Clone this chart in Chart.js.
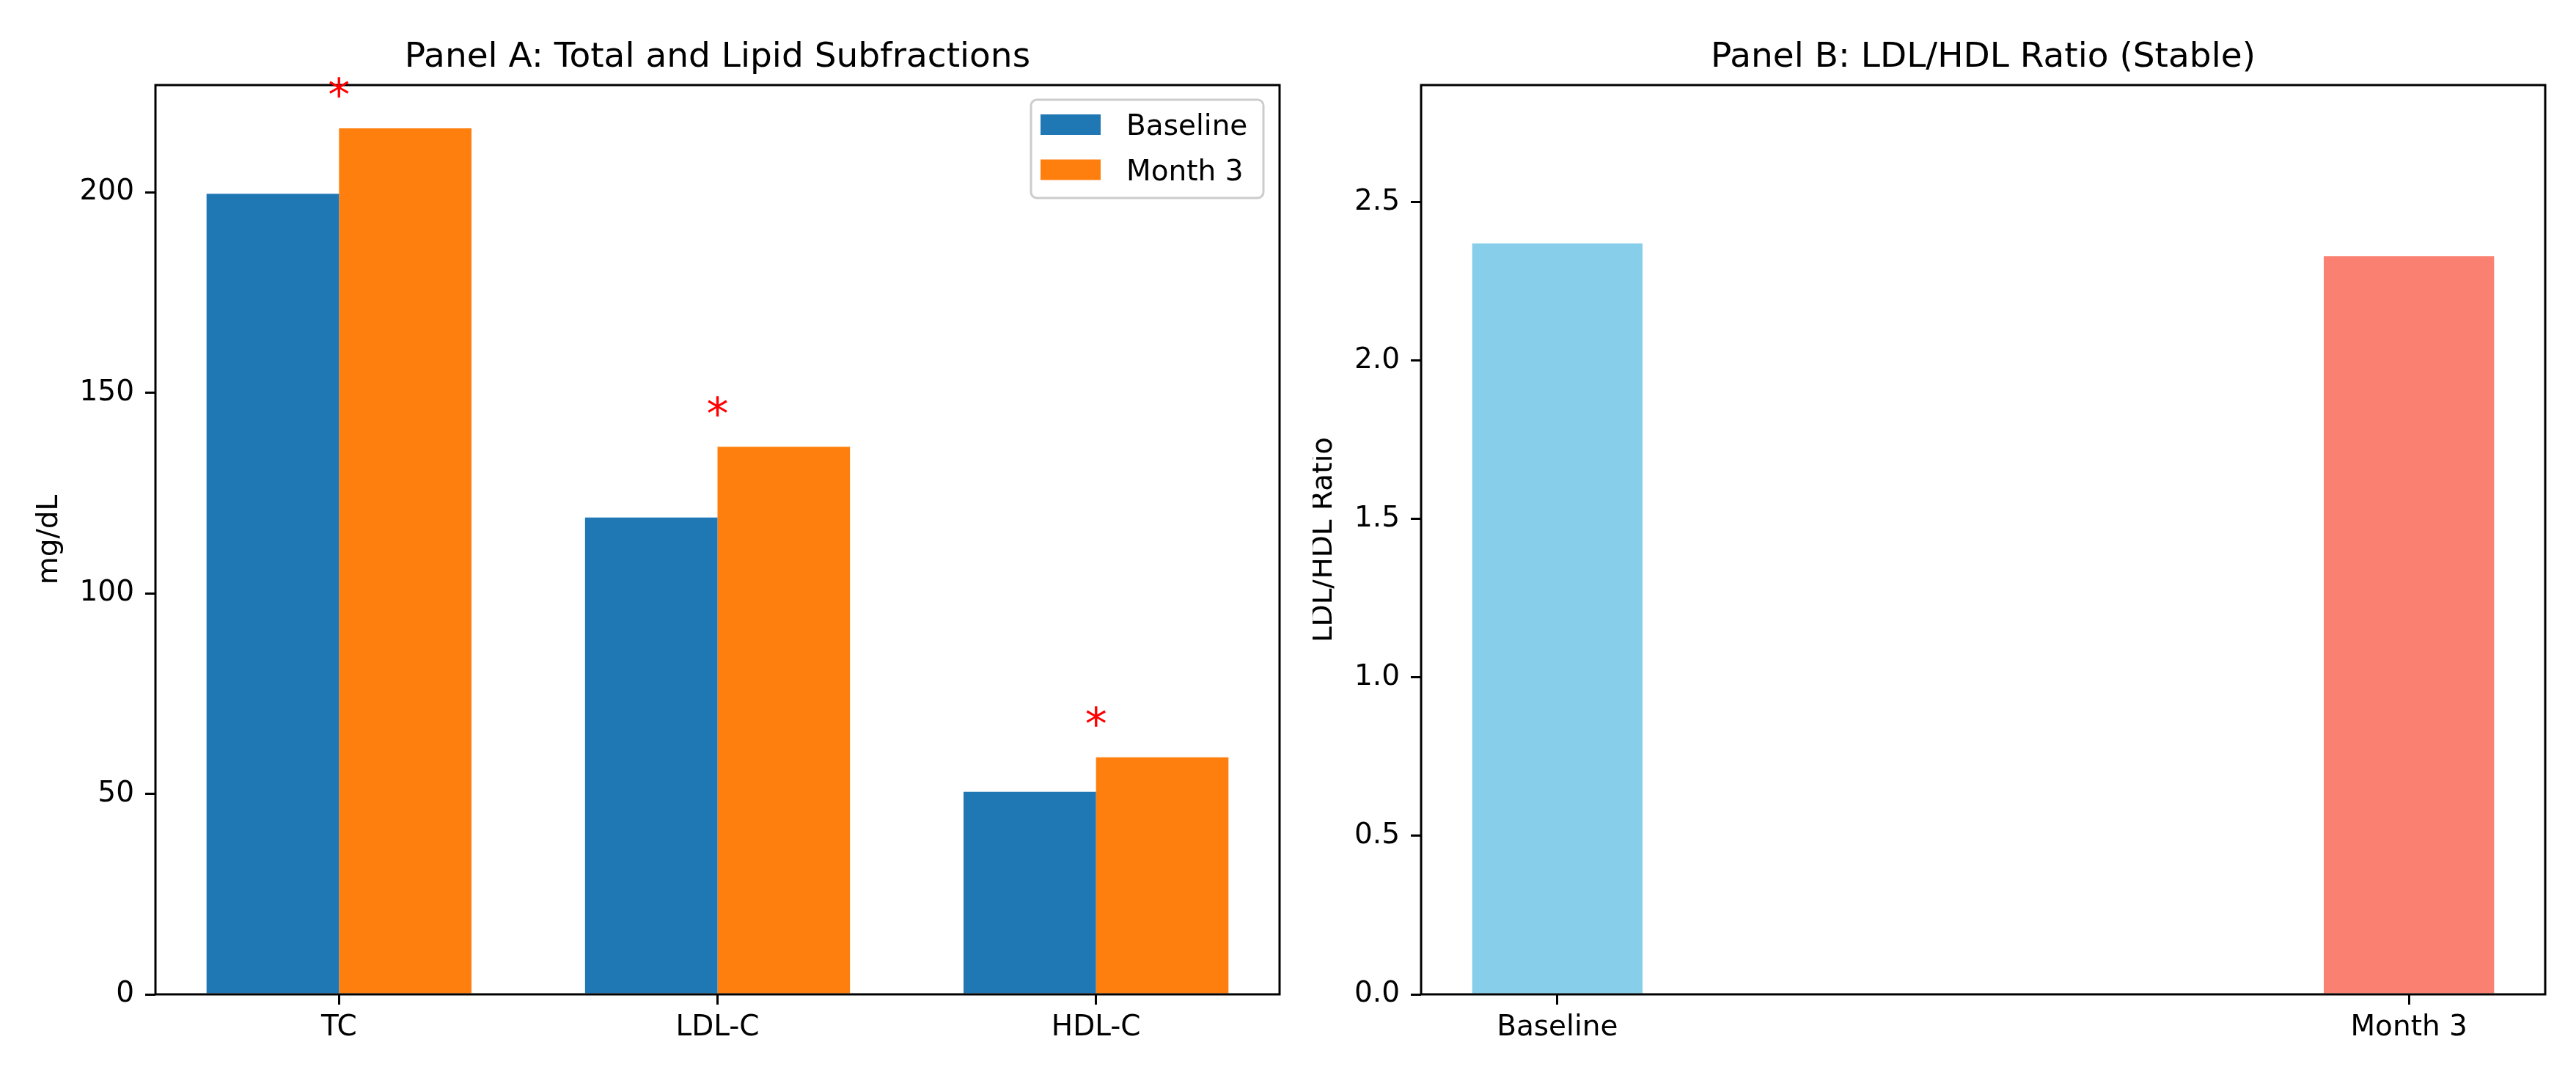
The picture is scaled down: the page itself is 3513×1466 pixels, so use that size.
<!DOCTYPE html>
<html><head><meta charset="utf-8">
<script src="https://cdn.jsdelivr.net/npm/chart.js@4.4.1/dist/chart.umd.min.js"></script>
<style>
html,body{margin:0;padding:0;background:#fff;}
#wrap{position:relative;width:3513px;height:1466px;background:#fff;overflow:hidden;}
canvas{position:absolute;top:0;}
</style></head><body>
<div id="wrap">
<canvas id="cA" width="1790" height="1466" style="left:0;width:1790px;height:1466px"></canvas>
<canvas id="cB" width="1723" height="1466" style="left:1790px;width:1723px;height:1466px"></canvas>
</div>
<script>
// ---- data ----
const categories = ['TC', 'LDL-C', 'HDL-C'];
const seriesLabels = ['Baseline', 'Month 3'];
const baselineValues = [199.6, 118.9, 50.5];
const month3Values = [215.9, 136.5, 59.1];
const significant = [true, true, true];
const yTicksA = [0, 50, 100, 150, 200];

const ratioCategories = ['Baseline', 'Month 3'];
const ratioValues = [2.37, 2.33];
const yTicksB = [0, 0.5, 1.0, 1.5, 2.0, 2.5];

const titleA = 'Panel A: Total and Lipid Subfractions';
const titleB = 'Panel B: LDL/HDL Ratio (Stable)';
const yLabelA = 'mg/dL';
const yLabelB = 'LDL/HDL Ratio';

// ---- style ----
const FONT = "'DejaVu Sans', sans-serif";
const TICK_PX = 39, TITLE_PX = 47, STAR_PX = 60;
const STAR_OFFSET = 10.2; // data units above the Month 3 bar
Chart.defaults.font.family = FONT;
Chart.defaults.color = '#000';

const yMaxA = Math.max(...month3Values, ...baselineValues) * 1.05;
const yMaxB = Math.max(...ratioValues) + 0.5;

function axisCommon(extra) {
  return Object.assign({
    grid: { drawOnChartArea: false, drawTicks: true, tickLength: 14, lineWidth: 3, color: '#000', offset: false },
    border: { display: false }
  }, extra);
}

const decor = {
  id: 'decor',
  afterDatasetsDraw(chart, args, opts) {
    const ctx = chart.ctx, a = chart.chartArea;
    ctx.save();
    ctx.strokeStyle = '#000'; ctx.lineWidth = 3;
    ctx.strokeRect(a.left, a.top, a.right - a.left, a.bottom - a.top);
    ctx.fillStyle = '#000';
    ctx.font = TITLE_PX + 'px ' + FONT;
    ctx.textAlign = 'center'; ctx.textBaseline = 'alphabetic';
    ctx.fillText(opts.title, (a.left + a.right) / 2, opts.titleBaseline);
    ctx.save();
    ctx.translate(opts.yLabelX, (a.top + a.bottom) / 2);
    ctx.rotate(-Math.PI / 2);
    ctx.font = TICK_PX + 'px ' + FONT;
    ctx.fillText(opts.yLabel, 0, 0);
    ctx.restore();
    ctx.restore();
  }
};

const starsPlugin = {
  id: 'stars',
  afterDatasetsDraw(chart) {
    const ctx = chart.ctx, xs = chart.scales.x, ys = chart.scales.y;
    ctx.save();
    ctx.fillStyle = '#ff0000';
    ctx.font = STAR_PX + 'px ' + FONT;
    ctx.textAlign = 'center'; ctx.textBaseline = 'alphabetic';
    const m = ctx.measureText('*');
    const asc = m.actualBoundingBoxAscent, desc = m.actualBoundingBoxDescent;
    categories.forEach((c, i) => {
      if (!significant[i]) return;
      const cx = xs.getPixelForValue(i);
      const cy = ys.getPixelForValue(Math.max(baselineValues[i], month3Values[i]) + STAR_OFFSET);
      ctx.fillText('*', cx, cy - (desc - asc) / 2);
    });
    ctx.restore();
  }
};

const legendPlugin = {
  id: 'legendBox',
  afterDraw(chart) {
    const ctx = chart.ctx, a = chart.chartArea;
    const w = 317, h = 134, r = 8;
    const right = a.right - 22, top = a.top + 20, left = right - w;
    ctx.save();
    ctx.beginPath();
    ctx.moveTo(left + r, top);
    ctx.arcTo(right, top, right, top + h, r);
    ctx.arcTo(right, top + h, left, top + h, r);
    ctx.arcTo(left, top + h, left, top, r);
    ctx.arcTo(left, top, right, top, r);
    ctx.closePath();
    ctx.fillStyle = 'rgba(255,255,255,0.8)';
    ctx.fill();
    ctx.strokeStyle = '#cccccc'; ctx.lineWidth = 3;
    ctx.stroke();
    ctx.font = TICK_PX + 'px ' + FONT;
    ctx.textAlign = 'left'; ctx.textBaseline = 'alphabetic';
    chart.data.datasets.forEach((ds, i) => {
      const cy = top + 34 + i * 61.5;
      ctx.fillStyle = ds.backgroundColor;
      ctx.fillRect(left + 13, cy - 14, 82, 28);
      ctx.fillStyle = '#000';
      ctx.fillText(ds.label, left + 130, cy + 14);
    });
    ctx.restore();
  }
};

// ---- Panel A ----
new Chart(document.getElementById('cA'), {
  type: 'bar',
  data: {
    datasets: [
      { label: seriesLabels[0], data: categories.map((c, i) => ({ x: i, y: baselineValues[i] })),
        backgroundColor: '#1f77b4', borderWidth: 0, categoryPercentage: 0.7, barPercentage: 1.0 },
      { label: seriesLabels[1], data: categories.map((c, i) => ({ x: i, y: month3Values[i] })),
        backgroundColor: '#ff7f0e', borderWidth: 0, categoryPercentage: 0.7, barPercentage: 1.0 }
    ]
  },
  options: {
    responsive: false, animation: false, devicePixelRatio: 1,
    layout: { padding: { left: 0, right: 45, top: 116, bottom: 0 } },
    plugins: {
      legend: { display: false }, title: { display: false }, tooltip: { enabled: false },
      decor: { title: titleA, titleBaseline: 91, yLabel: yLabelA, yLabelX: 78 }
    },
    scales: {
      x: axisCommon({
        type: 'linear', min: -0.485, max: 2.485, offset: false,
        afterBuildTicks: s => { s.ticks = categories.map((c, i) => ({ value: i })); },
        afterFit: s => { s.height = 110; },
        ticks: { callback: v => categories[v], font: { size: TICK_PX }, padding: 8, maxRotation: 0, autoSkip: false, color: '#000' }
      }),
      y: axisCommon({
        min: 0, max: yMaxA,
        afterBuildTicks: s => { s.ticks = yTicksA.map(v => ({ value: v })); },
        afterFit: s => { s.width = 212; },
        ticks: { callback: v => String(v), font: { size: TICK_PX }, padding: 15, color: '#000' }
      })
    }
  },
  plugins: [decor, starsPlugin, legendPlugin]
});

// ---- Panel B ----
new Chart(document.getElementById('cB'), {
  type: 'bar',
  data: {
    datasets: [
      { label: yLabelB, data: ratioCategories.map((c, i) => ({ x: i, y: ratioValues[i] })),
        backgroundColor: ['#87ceeb', '#fa8072'], borderWidth: 0, categoryPercentage: 0.2, barPercentage: 1.0 }
    ]
  },
  options: {
    responsive: false, animation: false, devicePixelRatio: 1,
    layout: { padding: { left: 0, right: 42, top: 116, bottom: 0 } },
    plugins: {
      legend: { display: false }, title: { display: false }, tooltip: { enabled: false },
      decor: { title: titleB, titleBaseline: 91, yLabel: yLabelB, yLabelX: 26 }
    },
    scales: {
      x: axisCommon({
        type: 'linear', min: -0.16, max: 1.16, offset: false,
        afterBuildTicks: s => { s.ticks = ratioCategories.map((c, i) => ({ value: i })); },
        afterFit: s => { s.height = 110; },
        ticks: { callback: v => ratioCategories[v], font: { size: TICK_PX }, padding: 8, maxRotation: 0, autoSkip: false, color: '#000' }
      }),
      y: axisCommon({
        min: 0, max: yMaxB,
        afterBuildTicks: s => { s.ticks = yTicksB.map(v => ({ value: v })); },
        afterFit: s => { s.width = 148; },
        ticks: { callback: v => v.toFixed(1), font: { size: TICK_PX }, padding: 15, color: '#000' }
      })
    }
  },
  plugins: [decor]
});
</script>
</body></html>
